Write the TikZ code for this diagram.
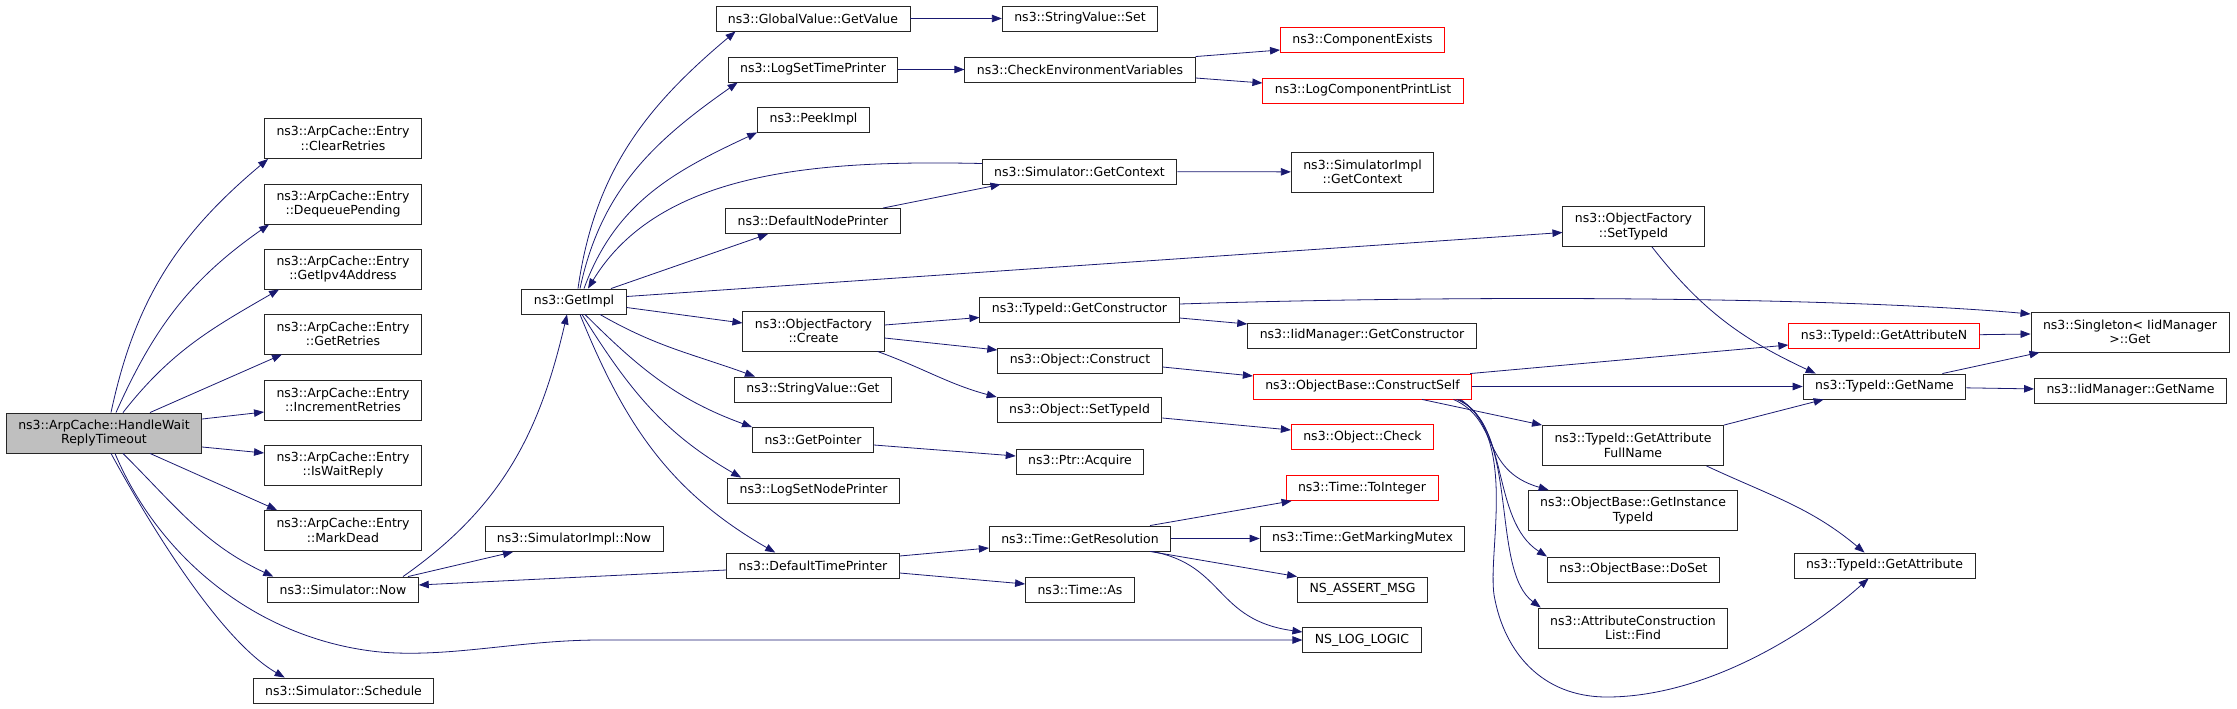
\documentclass[tikz,border=0pt]{standalone}
\usepackage{fontspec}
\setmainfont{DejaVu Sans}
\usetikzlibrary{arrows.meta}
\definecolor{callblue}{HTML}{191970}
\definecolor{rootgray}{HTML}{BFBFBF}
\tikzset{
  fn/.style={draw=black!85,line width=.9pt,fill=white,inner xsep=12pt,inner ysep=2pt,
    minimum height=25pt,align=center,font=\fontsize{12.5pt}{14.5pt}\selectfont},
  fn2/.style={fn,minimum height=40pt},
  trunc/.style={draw=red},
  root/.style={fill=rootgray},
  call/.style={draw=callblue,line width=.8pt,-{Triangle[length=10pt,width=7.5pt]}},
}
\begin{document}
\begin{tikzpicture}[x=1pt,y=1pt]
\useasboundingbox (0,0) rectangle (2237,-709);
\node[fn2,root] (hwrt) at (104,-433) {ns3::ArpCache::HandleWait\\ReplyTimeout};
\node[fn2] (clr) at (343,-138.5) {ns3::ArpCache::Entry\\::ClearRetries};
\node[fn2] (deq) at (343,-204) {ns3::ArpCache::Entry\\::DequeuePending};
\node[fn2] (ipv) at (343,-269) {ns3::ArpCache::Entry\\::GetIpv4Address};
\node[fn2] (getr) at (343,-334) {ns3::ArpCache::Entry\\::GetRetries};
\node[fn2] (incr) at (343,-400) {ns3::ArpCache::Entry\\::IncrementRetries};
\node[fn2] (wait) at (343,-465) {ns3::ArpCache::Entry\\::IsWaitReply};
\node[fn2] (dead) at (343,-530.5) {ns3::ArpCache::Entry\\::MarkDead};
\node[fn] (now) at (343,-589.5) {ns3::Simulator::Now};
\node[fn] (sched) at (343.5,-690.5) {ns3::Simulator::Schedule};
\node[fn] (getimpl) at (574,-301.5) {ns3::GetImpl};
\node[fn] (simimplnow) at (574,-539) {ns3::SimulatorImpl::Now};
\node[fn] (gvget) at (813,-18.5) {ns3::GlobalValue::GetValue};
\node[fn] (logtime) at (813,-69.5) {ns3::LogSetTimePrinter};
\node[fn] (peek) at (813.5,-119.5) {ns3::PeekImpl};
\node[fn] (nodeprn) at (813,-221) {ns3::DefaultNodePrinter};
\node[fn2] (ofcreate) at (813.5,-331) {ns3::ObjectFactory\\::Create};
\node[fn] (svget) at (813,-389.5) {ns3::StringValue::Get};
\node[fn] (getptr) at (813,-440) {ns3::GetPointer};
\node[fn] (lognode) at (813.5,-490.5) {ns3::LogSetNodePrinter};
\node[fn] (timeprn) at (813,-565.5) {ns3::DefaultTimePrinter};
\node[fn] (svset) at (1080,-18.5) {ns3::StringValue::Set};
\node[fn] (checkenv) at (1080,-69.5) {ns3::CheckEnvironmentVariables};
\node[fn] (simctx) at (1079.5,-171.5) {ns3::Simulator::GetContext};
\node[fn] (tidctor) at (1079.5,-309.5) {ns3::TypeId::GetConstructor};
\node[fn] (objconstruct) at (1080,-360.5) {ns3::Object::Construct};
\node[fn] (objsettid) at (1079.5,-410) {ns3::Object::SetTypeId};
\node[fn] (ptracq) at (1080,-461.5) {ns3::Ptr::Acquire};
\node[fn] (timeres) at (1080,-538.5) {ns3::Time::GetResolution};
\node[fn] (timeas) at (1080,-589.5) {ns3::Time::As};
\node[fn,trunc] (compexists) at (1362.5,-40) {ns3::ComponentExists};
\node[fn,trunc] (logcomp) at (1363,-90.5) {ns3::LogComponentPrintList};
\node[fn2] (implctx) at (1362.5,-172) {ns3::SimulatorImpl\\::GetContext};
\node[fn] (iidctor) at (1362,-335.5) {ns3::IidManager::GetConstructor};
\node[fn,trunc] (cself) at (1362.5,-386.5) {ns3::ObjectBase::ConstructSelf};
\node[fn,trunc] (objcheck) at (1362.5,-437) {ns3::Object::Check};
\node[fn,trunc] (toint) at (1362,-488) {ns3::Time::ToInteger};
\node[fn] (mutex) at (1362.5,-538.5) {ns3::Time::GetMarkingMutex};
\node[fn] (assert) at (1362.5,-589.5) {NS\_ASSERT\_MSG};
\node[fn] (loglogic) at (1362,-640) {NS\_LOG\_LOGIC};
\node[fn2] (ofsettid) at (1633.5,-226.5) {ns3::ObjectFactory\\::SetTypeId};
\node[fn2] (attrfull) at (1633,-445.5) {ns3::TypeId::GetAttribute\\FullName};
\node[fn2] (insttid) at (1633,-510.5) {ns3::ObjectBase::GetInstance\\TypeId};
\node[fn] (doset) at (1633.5,-569.5) {ns3::ObjectBase::DoSet};
\node[fn2] (aclfind) at (1633,-628) {ns3::AttributeConstruction\\List::Find};
\node[fn,trunc] (attrN) at (1884,-336) {ns3::TypeId::GetAttributeN};
\node[fn] (tidname) at (1884.5,-386.5) {ns3::TypeId::GetName};
\node[fn] (tidattr) at (1884.5,-565.5) {ns3::TypeId::GetAttribute};
\node[fn2] (singleton) at (2130,-332) {ns3::Singleton< IidManager\\ >::Get};
\node[fn] (iidname) at (2130.5,-390.5) {ns3::IidManager::GetName};
% calls of HandleWaitReplyTimeout
\draw[call] ([xshift=7pt]hwrt.north) to[out=78,in=-140] ([xshift=4pt]clr.south west);
\draw[call] ([xshift=12pt]hwrt.north) to[out=66,in=-145] ([xshift=5pt]deq.south west);
\draw[call] ([xshift=19pt]hwrt.north) to[out=52,in=-150] ([xshift=15pt]ipv.south west);
\draw[call] ([xshift=46pt]hwrt.north) -- ([xshift=18pt]getr.south west);
\draw[call] ([yshift=14pt]hwrt.east) -- ([yshift=-12pt]incr.west);
\draw[call] ([yshift=-14pt]hwrt.east) -- ([yshift=12pt]wait.west);
\draw[call] ([xshift=46pt]hwrt.south) -- ([xshift=13pt]dead.north west);
\draw[call] ([xshift=19pt]hwrt.south) to[out=-45,in=155] ([xshift=6pt]now.north west);
\draw[call] ([xshift=11pt]hwrt.south) .. controls (160,-560) and (260,-640) .. (380,-652)
  .. controls (450,-658) and (520,-640) .. (600,-640) -- (loglogic.west);
\draw[call] ([xshift=7pt]hwrt.south) .. controls (150,-525) and (220,-640) .. ([xshift=32pt]sched.north west);
% Simulator::Now
\draw[call] ([xshift=60pt]now.north) to[out=35,in=-103] ([xshift=-7pt]getimpl.south);
\draw[call] ([xshift=65pt]now.north) -- ([xshift=-61pt]simimplnow.south);
\draw[call] ([yshift=-4.5pt]timeprn.west) -- ([yshift=4.5pt]now.east);
% GetImpl
\draw[call] ([xshift=4pt]getimpl.north) to[out=82,in=-140] ([xshift=20pt]gvget.south west);
\draw[call] ([xshift=6pt]getimpl.north) to[out=78,in=-145] ([xshift=10pt]logtime.south west);
\draw[call] ([xshift=10pt]getimpl.north) to[out=70,in=-155] (peek.south west);
\draw[call] ([xshift=37pt]getimpl.north) -- ([xshift=-45pt]nodeprn.south);
\draw[call] ([yshift=8pt]simctx.west) .. controls (820,-160) and (660,-170) .. ([xshift=14pt]getimpl.north);
\draw[call] ([yshift=5pt]getimpl.east) -- ([yshift=-6pt]ofsettid.west);
\draw[call] ([yshift=-6pt]getimpl.east) -- ([yshift=8pt]ofcreate.west);
\draw[call] ([xshift=26pt]getimpl.south) to[out=-30,in=160] ([xshift=21pt]svget.north west);
\draw[call] ([xshift=11pt]getimpl.south) to[out=-45,in=160] (getptr.north west);
\draw[call] ([xshift=8pt]getimpl.south) to[out=-58,in=150] ([xshift=14pt]lognode.north west);
\draw[call] ([xshift=6pt]getimpl.south) to[out=-68,in=150] ([xshift=49pt]timeprn.north west);
% third column
\draw[call] (gvget) -- (svset);
\draw[call] (logtime) -- (checkenv);
\draw[call] (checkenv.north east) -- ([yshift=-10pt]compexists.west);
\draw[call] ([yshift=-8.5pt]checkenv.east) -- ([yshift=7.5pt]logcomp.west);
\draw[call] ([xshift=70pt]nodeprn.north) -- ([xshift=-79pt]simctx.south);
\draw[call] (simctx) -- (implctx);
\draw[call] ([yshift=6pt]ofcreate.east) -- ([yshift=-8pt]tidctor.west);
\draw[call] ([yshift=-7pt]ofcreate.east) -- ([yshift=10.5pt]objconstruct.west);
\draw[call] ([xshift=64pt]ofcreate.south) to[out=-20,in=165] (objsettid.north west);
\draw[call] ([yshift=-5pt]getptr.east) -- ([yshift=5.5pt]ptracq.west);
\draw[call] ([yshift=9.5pt]timeprn.east) -- ([yshift=-9.5pt]timeres.west);
\draw[call] ([yshift=-7.5pt]timeprn.east) -- ([yshift=5.5pt]timeas.west);
% fourth column
\draw[call] ([yshift=-8.5pt]tidctor.east) -- ([yshift=11.5pt]iidctor.west);
\draw[call] ([yshift=5.5pt]tidctor.east) .. controls (1500,-294) and (1850,-298) .. ([yshift=18pt]singleton.west);
\draw[call] ([yshift=-6.5pt]objconstruct.east) -- ([yshift=10.5pt]cself.west);
\draw[call] ([yshift=-8pt]objsettid.east) -- ([yshift=7pt]objcheck.west);
\draw[call] ([xshift=70pt]timeres.north) -- ([xshift=6pt]toint.south west);
\draw[call] (timeres) -- (mutex);
\draw[call] ([xshift=70pt]timeres.south) -- (assert.north west);
\draw[call] ([xshift=72pt]timeres.south) .. controls (1225,-565) and (1215,-620) .. ([yshift=8pt]loglogic.west);
% ConstructSelf
\draw[call] ([xshift=-2pt]cself.north east) -- ([yshift=-9pt]attrN.west);
\draw[call] (cself) -- (tidname);
\draw[call] ([xshift=59.5pt]cself.south) -- (attrfull.north west);
\draw[call] ([xshift=91pt]cself.south) .. controls (1500,-420) and (1480,-470) .. ([xshift=21pt]insttid.north west);
\draw[call] ([xshift=94pt]cself.south) .. controls (1510,-420) and (1490,-520) .. (doset.north west);
\draw[call] ([xshift=96pt]cself.south) .. controls (1520,-430) and (1490,-570) .. ([xshift=3pt]aclfind.north west);
\draw[call] ([xshift=98pt]cself.south) .. controls (1520,-440) and (1485,-560) .. (1495,-600)
  .. controls (1505,-650) and (1540,-697) .. (1607,-697)
  .. controls (1700,-697) and (1800,-640) .. ([xshift=75pt]tidattr.south west);
\draw[call] ([xshift=18.5pt]ofsettid.south) to[out=-52,in=155] ([xshift=13pt]tidname.north west);
% TypeId
\draw[call] (attrN) -- ([yshift=-2pt]singleton.west);
\draw[call] ([xshift=-24pt]tidname.north east) -- ([xshift=9pt]singleton.south west);
\draw[call] (tidname) -- (iidname);
\draw[call] (attrfull.north east) -- ([xshift=21pt]tidname.south west);
\draw[call] ([xshift=-17.5pt]attrfull.south east) to[out=-25,in=140] ([xshift=-20pt]tidattr.north);
\end{tikzpicture}
\end{document}
